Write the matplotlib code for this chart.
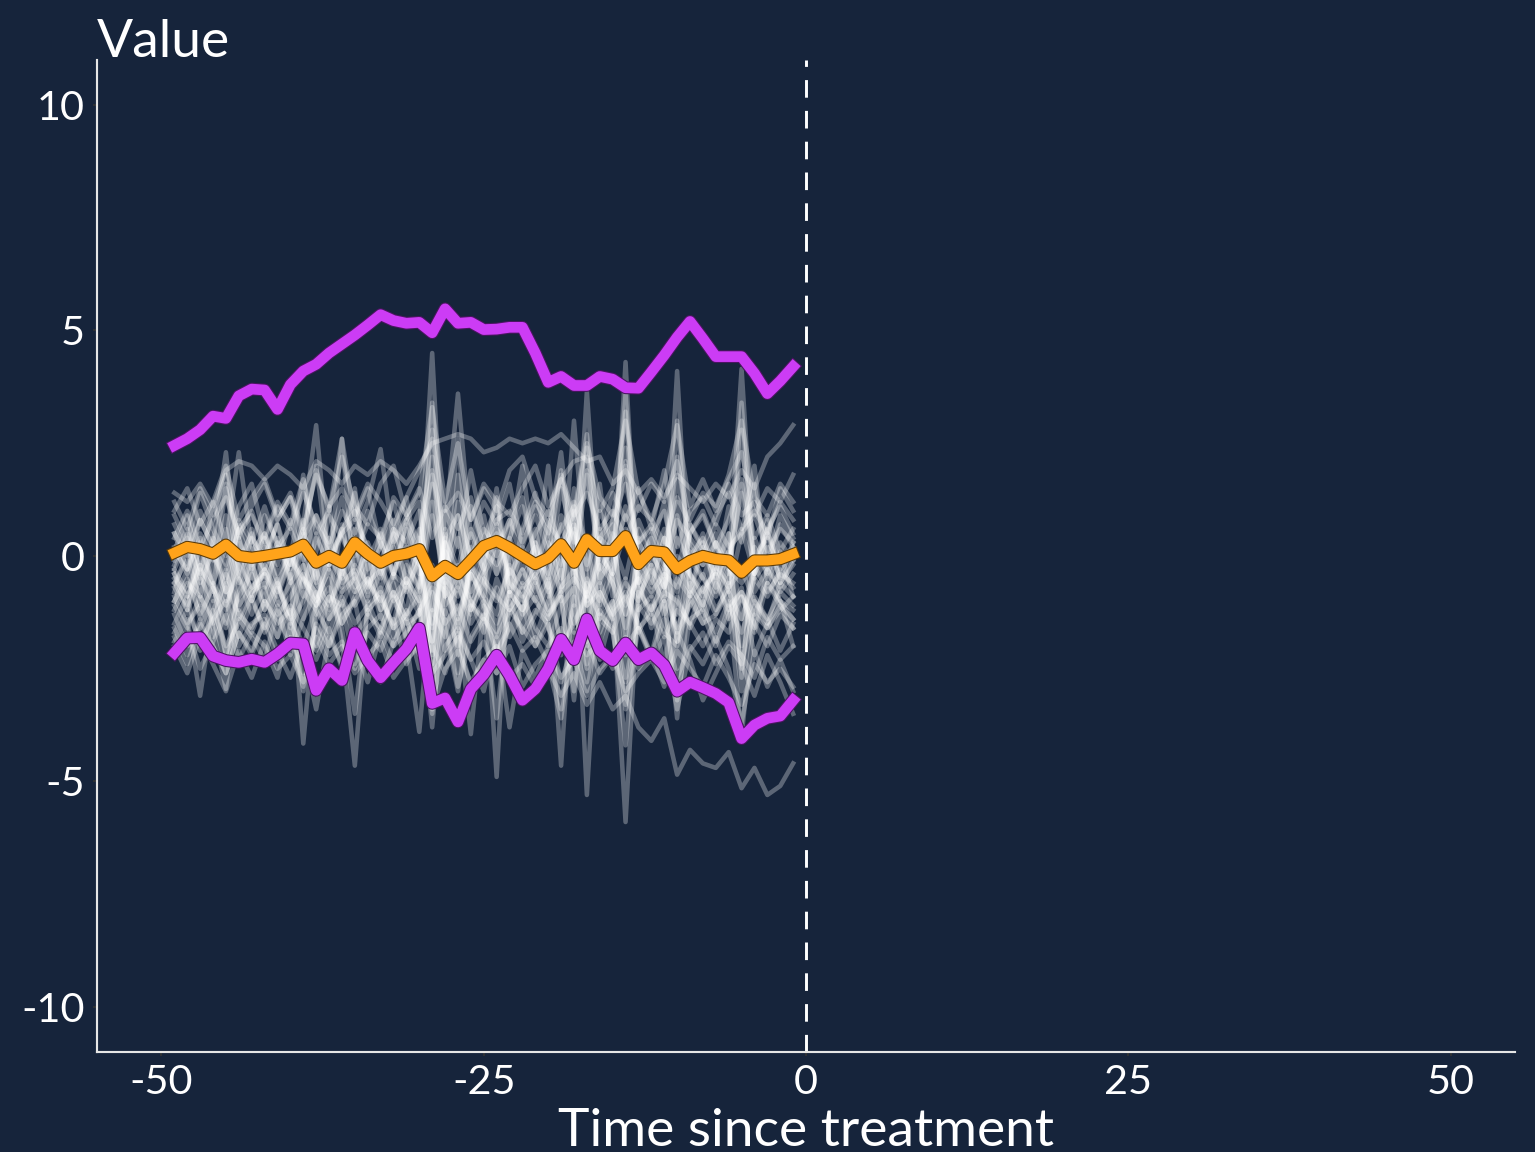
import matplotlib.pyplot as plt
import matplotlib.patheffects as pe
import numpy as np

plt.rcParams['font.family'] = ['Lato', 'DejaVu Sans']
plt.rcParams['axes.unicode_minus'] = False

# time points before treatment
t = list(range(-49, 0))

# individual units
u01 = [1.4, 1.2, 1.6, 1.1, 1.9, 2.1, 2.0, 1.7, 2.0, 1.8, 1.5, 2.1, 1.9, 1.6,
       2.0, 1.8, 2.1, 1.9, 1.6, 2.0, 2.5, 2.6, 2.7, 2.6, 2.3, 2.4, 2.6, 2.5,
       2.6, 2.5, 2.7, 2.4, 2.1, 2.2, 1.6, 1.9, 1.4, 1.7, 1.3, 1.8, 1.5, 1.2,
       1.6, 1.3, 1.9, 1.5, 2.2, 2.5, 2.9]
u02 = [0.5, -0.3, 0.8, 0.2, 1.5, 0.4, -0.5, 0.9, 0.3, -0.6, 0.7, 2.9, -0.2, 0.6,
       1.0, 0.1, -0.8, 0.5, 1.3, -0.4, 4.5, -0.9, 1.8, -0.2, 0.4, 1.1, -0.7, 0.6,
       1.4, 0.3, -0.5, 1.2, 0.2, -1.1, 0.8, 2.1, -0.6, 0.5, 1.0, -0.3, 0.7, 0.1,
       -0.4, 1.1, 0.3, 1.6, -0.2, 0.9, 0.4]
u03 = [-0.8, 0.2, -1.1, -0.3, 0.6, -1.2, -0.2, -1.0, 0.4, -0.5, -1.4, 0.1, 1.1, -0.7,
       0.3, -0.9, 0.6, -0.4, -1.3, 0.5, 2.2, -0.6, 0.9, -1.2, -0.1, 0.7, -0.8, 0.2,
       -0.5, 0.8, -1.0, 1.5, -0.3, 0.6, -0.9, 4.3, -1.2, 0.2, -0.7, 0.9, -0.4, -1.1,
       0.3, -0.8, 0.5, 2.0, -0.6, 0.1, -0.9]
u04 = [0.1, 0.9, -0.4, 1.2, 0.3, 2.3, 0.2, -0.3, 0.8, 1.3, 0.1, -0.6, 0.9, 0.4,
       -0.2, 1.0, 0.3, -0.5, 0.8, 1.2, -1.6, 0.5, -0.3, 1.1, 0.2, -0.4, 0.7, 1.3,
       0.0, -0.7, 0.9, 0.4, -0.2, 1.0, 0.3, -0.5, 0.8, 0.1, 1.2, -0.8, 0.5, 0.9,
       0.2, -0.3, 4.15, -0.4, 0.6, 1.1, 0.5]
u05 = [-0.4, -1.2, 0.3, -0.7, -1.5, 0.4, -0.9, 0.2, -0.6, -1.3, 0.5, -0.3, -1.0, 0.7,
       -0.8, 0.1, -1.2, -0.4, 0.6, -0.7, -2.1, 0.3, -1.4, -0.2, -0.9, 0.4, -0.5, -1.3,
       0.6, -0.8, 0.2, -1.1, 3.65, -0.6, 0.3, -1.3, 0.4, -0.5, -1.0, 4.1, -0.9, 0.2,
       -0.7, 0.5, -1.4, -0.3, 0.8, -0.6, -0.2]
u06 = [0.9, 0.3, 1.4, 0.6, 0.0, 1.1, 1.6, 0.4, 1.2, 0.7, 1.7, 0.5, 1.0, 2.6,
       0.8, 1.5, 0.2, 1.3, 0.9, 0.3, 1.8, 0.6, 3.6, 0.4, 1.2, 0.7, 1.6, 0.2,
       1.1, 0.5, 1.8, 0.9, 2.7, 0.3, 1.4, 0.8, 1.5, 0.6, 1.9, 0.2, 1.0, 1.3,
       0.7, 1.6, 0.9, 1.2, 0.4, 1.5, 1.0]
u07 = [-1.5, -0.9, -2.1, -1.2, -0.6, -1.8, -1.0, -1.6, -0.7, -1.3, -2.0, -1.1, -0.5, -1.9,
       -4.65, -1.0, -1.7, -0.8, -1.4, -2.2, -1.2, -1.8, -0.6, -1.5, -1.0, -2.3, -1.3, -0.9,
       -1.6, -2.0, -1.1, -0.7, -1.9, -1.2, -1.7, -0.9, -1.5, -2.2, -1.0, -1.6, -0.8, -1.3,
       -2.0, -1.1, -1.7, -0.9, -1.4, -2.1, -1.5]
u08 = [-1.0, -0.3, -1.4, -0.6, -2.2, -0.8, -0.1, -1.2, -0.5, -1.6, -0.2, -2.0, -0.9, -1.1,
       -0.4, -1.3, -0.7, -1.8, -0.5, -1.0, -3.8, -0.6, -1.5, -0.3, -1.1, -2.4, -0.8, -1.2,
       -0.5, -1.4, -0.9, -3.2, -0.6, -1.7, -1.0, -5.9, -0.7, -1.3, -0.4, -1.9, -0.9, -1.5,
       -0.6, -1.2, -0.8, -1.6, -0.3, -1.0, -1.4]
u09 = [-0.2, 0.5, -0.6, 0.1, -1.0, -0.4, 0.6, -0.7, 0.2, -0.3, 0.8, -0.9, 0.0, -0.5,
       0.4, -0.8, 0.3, -0.4, 0.7, -0.2, -1.5, 0.1, -0.7, 0.5, -0.3, -4.9, 0.2, -0.6,
       0.3, -0.9, -0.1, 0.6, -5.3, -0.4, 0.5, -1.8, 0.0, -0.7, 0.4, -0.2, -0.8, 0.3,
       -0.5, 0.1, -2.5, -0.3, 0.6, -0.6, 0.0]
u10 = [-1.8, -2.4, -1.5, -2.0, -2.6, -1.7, -2.2, -1.4, -2.1, -2.7, -1.9, -2.3, -1.6, -2.5,
       -2.0, -2.8, -1.7, -2.4, -2.1, -1.5, -2.6, -2.2, -1.8, -2.9, -2.3, -2.0, -2.7, -2.4,
       -2.9, -2.5, -3.1, -2.6, -3.3, -2.8, -3.4, -3.1, -3.8, -4.1, -3.6, -4.85, -4.3, -4.6,
       -4.7, -4.35, -5.15, -4.7, -5.3, -5.1, -4.6]
u11 = [-1.9, -1.4, -3.1, -1.2, -2.0, -1.5, -0.9, -1.7, -1.1, -2.2, -1.4, -0.8, -2.0, -1.3,
       -1.0, -2.4, -1.6, -0.9, -1.8, -1.2, -0.7, -2.1, -1.4, -3.95, -1.1, -1.7, -0.8, -1.9,
       -1.3, -0.6, -2.0, -1.5, -0.9, -2.3, -1.2, -0.8, -1.7, -1.1, -2.4, -0.9, -1.6, -1.0,
       -1.9, -1.3, -0.7, -2.2, -1.5, -1.0, -2.0]
u12 = [-0.6, -1.1, -0.2, -1.6, -2.95, -0.5, -1.3, -0.7, -1.8, -0.4, -4.16, -1.0, -0.3, -1.5,
       -0.9, -0.2, -1.4, -0.6, -1.9, -3.9, -0.8, -1.3, -0.4, -1.0, -1.7, -0.5, -1.2, -0.7,
       -1.8, -1.0, -0.3, -1.5, -0.8, -1.3, -0.4, -1.1, -0.5, -1.6, -0.9, -3.6, -0.6, -1.2,
       -0.4, -1.4, -0.9, -1.7, -0.6, -1.1, -1.6]
u13 = [-0.5, -0.9, -0.3, -0.7, -1.2, 0.0, -0.8, -0.4, -1.1, -0.6, -0.2, -0.9, -1.4, -0.3,
       -0.8, -0.5, -1.0, -1.5, -0.2, -0.7, 1.2, -0.9, -0.4, -1.2, -0.6, 1.3, -0.8, -0.3,
       -1.0, -0.5, -4.65, -0.2, -0.8, 1.6, -0.6, -1.3, -0.4, -0.9, -0.3, 1.2, -0.7, -1.1,
       -0.2, -0.8, -1.4, -0.5, -0.9, -0.3, -0.7]
u14 = [0.7, 0.1, 1.0, 0.4, -0.2, 0.8, 0.3, 1.1, 0.2, 0.6, -0.1, 0.9, 0.3, 1.3,
       0.0, 0.7, 0.4, 1.2, 0.1, 0.6, -2.4, 1.0, 0.2, 1.9, 0.5, 0.0, 0.8, 0.3,
       0.9, 0.1, 0.6, 1.1, -1.5, 0.4, 0.8, 1.6, 0.3, 0.7, 0.0, -1.3, 0.5, 1.0,
       0.2, 0.8, 1.7, 0.4, 0.9, 0.1, 0.6]
u15 = [-1.2, -0.6, -0.9, -1.5, -0.4, -1.1, -0.7, -0.3, -1.0, -1.4, -0.5, -0.8, -1.2, -0.2,
       -1.1, -0.6, -0.3, -1.0, -0.7, -1.3, -0.5, -0.8, -1.6, -0.4, -0.9, -1.3, -0.2, -1.0,
       -0.4, -1.2, -0.7, -0.3, -1.1, -0.8, -1.4, -0.6, -1.0, -0.2, -1.3, -0.5, -0.9, -0.4,
       -1.2, -0.7, -0.3, -1.0, -1.5, -0.6, -0.9]
u16 = [0.2, -0.4, 0.5, -0.1, 0.9, -0.6, 0.4, 0.0, 0.7, -0.5, 0.3, 2.0, -0.2, 0.5,
       1.4, -0.3, 0.2, 0.8, -0.6, 0.4, -3.0, 0.6, -2.2, 0.1, 0.9, -0.4, 0.3, 2.0,
       -0.2, 0.5, 2.3, -0.3, 1.8, 0.1, -0.5, -2.7, 0.6, 0.0, -0.4, 2.2, 0.3, -0.2,
       0.5, -0.1, -2.0, 0.4, -0.3, 0.7, 0.2]
u17 = [-1.3, -2.0, -1.6, -1.0, -2.2, -1.4, -1.8, -2.3, -1.2, -1.7, -2.6, -1.5, -2.0, -1.1,
       -2.4, -1.6, -1.3, -2.0, -1.7, -1.2, -3.5, -1.4, -2.9, -1.8, -1.3, -2.1, -1.6, -1.1,
       -2.0, -1.5, -2.8, -1.9, -3.0, -1.4, -1.7, -3.3, -1.6, -2.2, -1.4, -2.7, -2.0, -2.4,
       -1.8, -2.5, -3.7, -2.1, -2.9, -2.3, -3.0]
u18 = [1.2, 0.6, 1.5, 0.9, 1.8, 0.4, 1.1, 1.6, 0.8, 1.3, 0.5, 1.9, 1.0, 2.2,
       1.1, 0.7, 1.6, 2.0, 0.9, 1.4, 3.3, 1.2, 2.5, 0.8, 1.5, 1.0, 1.9, 2.2,
       1.3, 0.9, 1.7, 2.1, 2.2, 1.0, 1.5, 3.0, 1.4, 0.8, 1.6, 2.9, 1.1, 1.7,
       1.0, 1.8, 3.0, 1.3, 0.9, 1.6, 1.2]
u19 = [-0.3, 0.3, -0.8, 0.0, -0.5, 0.6, -0.2, 0.4, -0.6, 0.1, -0.9, 0.5, -0.3, 2.6,
       -0.7, 0.3, -0.4, 0.6, -0.1, -0.8, 0.9, -0.5, 0.4, -0.9, 0.0, 0.5, -0.4, 0.1,
       -0.6, 0.3, -0.2, 0.7, -0.9, 0.0, -0.4, 0.6, -0.3, 0.2, -0.7, 0.4, -0.2, 0.5,
       -0.8, 0.1, 0.6, -0.4, 0.2, -0.5, 0.3]
u20 = [-2.2, -1.6, -2.5, -1.9, -1.3, -2.3, -1.7, -2.0, -2.7, -1.5, -2.1, -3.4, -1.8, -2.4,
       -1.6, -2.2, -2.8, -1.9, -1.4, -2.5, -2.0, -2.6, -1.7, -2.3, -3.0, -1.8, -3.8, -2.1,
       -2.7, -2.0, -1.6, -2.4, -1.9, -2.6, -2.2, -1.8, -2.5, -2.1, -2.9, -1.7, -2.3, -3.2,
       -2.6, -2.0, -2.4, -3.1, -2.2, -2.8, -3.5]
u21 = [0.4, 1.0, 0.2, 0.8, 1.3, 0.5, 0.9, 0.3, 1.1, 0.6, 1.4, 0.7, 0.2, 1.0,
       0.5, 1.2, 2.37, 0.3, 0.9, 1.5, 0.4, 1.1, 0.6, 1.3, 0.2, 0.8, 1.0, 0.5,
       1.2, 0.7, 0.3, 0.9, 1.4, 0.6, 1.0, 0.4, 1.1, 0.8, 0.3, 1.3, 0.7, 0.2,
       0.9, 1.4, 0.6, 1.0, 0.5, 1.2, 0.8]
u22 = [-0.6, -0.1, -0.9, 0.3, 2.3, -0.4, -1.0, -0.2, -0.7, 0.1, -0.5, -1.1, 0.0, -0.6,
       -0.3, -1.0, -0.4, 0.2, -0.8, -0.1, 2.8, -0.7, -0.2, -1.1, -0.4, 0.1, -0.9, -0.3,
       -0.8, 0.0, 1.9, -0.6, 2.4, -0.5, -0.1, 3.2, -0.9, -0.3, -0.7, 0.0, -0.4, -0.9,
       -0.2, -0.6, 2.8, -0.8, -0.3, -0.7, -0.1]
u23 = [-0.9, -1.5, -1.1, -1.8, -0.7, -1.3, -1.6, -1.0, -1.4, -1.9, -0.8, -1.2, -1.7, -0.9,
       -1.5, -1.1, -0.8, -1.6, -1.3, -0.9, -2.6, -1.2, -2.0, -1.0, -1.4, -0.7, -1.8, -1.3,
       -0.9, -1.6, -2.2, -1.1, -2.5, -0.8, -1.4, -2.8, -1.2, -0.9, -1.7, -2.0, -1.0, -1.5,
       -1.3, -0.8, -2.4, -1.1, -1.6, -1.2, -0.9]
u24 = [0.0, 0.6, -0.3, 0.4, -0.8, 0.7, 0.1, 0.5, -0.2, 0.8, 0.0, -1.3, 0.4, -0.4,
       0.6, 0.1, -0.5, 0.3, 0.8, 0.0, -1.9, 0.4, -2.6, 0.2, -0.3, 0.6, 0.1, -1.7,
       0.3, -0.4, -2.0, 0.5, -2.4, 0.2, 0.7, -2.2, 0.3, -0.2, 0.6, -2.5, 0.0, 0.4,
       -0.3, 0.5, -2.7, 0.2, -0.4, 0.3, -0.1]
u25 = [-1.0, -0.5, -1.3, -0.7, -1.6, -0.9, -0.4, -1.2, -0.6, -1.5, -1.0, -0.3, -1.4, -0.8,
       -0.5, -1.2, -0.9, -1.6, -0.6, -1.1, -2.9, -0.7, -1.3, -0.4, -1.0, -1.5, -0.8, -1.2,
       -0.6, -1.3, -0.9, -3.0, -0.5, -1.4, -1.0, -3.4, -0.8, -1.2, -0.5, -1.7, -1.1, -0.7,
       -1.3, -0.6, -3.0, -1.0, -1.4, -0.8, -1.1]
u26 = [-0.4, -0.9, -0.2, -0.8, 1.6, -0.5, -1.0, -0.3, -0.8, -0.1, 1.8, -0.6, -1.1, -0.4,
       1.5, -0.7, -0.2, -0.9, -0.5, -1.0, 3.4, -0.4, 2.6, -0.8, -0.3, 1.5, -0.6, -0.9,
       -0.2, 2.0, -0.7, 3.0, -0.5, -1.0, -0.3, 3.6, -0.6, -0.2, -0.9, 3.0, -0.4, -0.8,
       -0.3, -0.7, 3.4, -0.5, -0.1, -0.8, -0.4]
u27 = [-1.6, -2.2, -1.4, -2.0, -2.6, -1.7, -2.1, -1.5, -2.3, -1.8, -2.9, -1.6, -2.2, -1.9,
       -2.5, -1.7, -2.1, -1.4, -2.4, -1.8, -3.2, -2.0, -1.6, -2.3, -1.9, -2.6, -1.5, -2.1,
       -1.8, -2.4, -3.6, -1.7, -2.2, -1.9, -2.5, -2.0, -1.6, -2.3, -1.8, -3.4, -2.1, -1.7,
       -2.4, -1.9, -2.2, -2.7, -1.8, -2.3, -2.0]
u28 = [0.5, 0.0, 0.8, 0.2, -0.3, 0.6, 1.0, 0.1, 0.7, -0.2, 0.4, 0.9, 0.0, 0.5,
       0.8, 0.2, -0.1, 0.6, 0.3, 1.0, -1.2, 0.4, 0.9, 0.0, 0.6, 0.2, 0.8, -0.1,
       0.5, 1.0, 0.2, 0.7, -1.0, 0.4, 0.1, 0.9, 0.3, 0.6, -0.2, 0.8, 0.4, 0.0,
       0.7, 0.2, 0.5, 0.9, 0.1, 0.6, 0.3]
u29 = [-1.1, -1.6, -0.9, -1.4, -2.4, -1.2, -1.7, -1.0, -1.5, -1.2, -3.0, -1.4, -0.9, -1.6,
       -3.5, -1.2, -1.8, -1.0, -1.5, -1.3, -0.2, -1.6, -3.0, -1.1, -1.4, -3.6, -1.0, -1.7,
       -1.2, -1.5, -3.4, -0.9, -2.8, -1.3, -1.6, -4.2, -1.1, -1.5, -1.0, -3.2, -1.4, -1.2,
       -1.7, -1.0, -4.0, -1.3, -1.6, -1.1, -1.4]
u30 = [1.0, 1.5, 0.7, 1.2, 2.0, 0.8, 1.3, 1.7, 0.9, 1.4, 0.6, 1.8, 1.1, 1.5,
       0.9, 1.6, 1.2, 0.7, 1.3, 1.9, 2.6, 1.0, 1.4, 0.8, 1.6, 1.2, 0.9, 1.5,
       2.0, 1.1, 1.7, 0.8, 2.5, 1.3, 0.9, 2.4, 1.0, 1.6, 1.2, 2.1, 0.8, 1.4,
       1.1, 1.7, 2.3, 0.9, 1.5, 1.2, 1.8]
u31 = [-0.1, 0.4, -0.5, 0.2, -0.8, 0.3, -0.3, 0.5, -0.4, 0.1, -0.7, 0.4, -0.2, 0.6,
       -0.5, 0.2, -0.3, 0.5, -0.6, 0.1, -1.9, 0.3, -0.4, 0.6, -0.1, -2.1, 0.4, -0.3,
       0.2, -0.5, 0.7, -0.2, -2.0, 0.3, -0.4, 1.1, 0.0, -0.6, 0.4, -1.9, 0.1, -0.5,
       0.3, -0.2, 1.4, -0.4, 0.5, -0.1, 0.2]
u32 = [-0.7, -1.2, -0.5, -1.0, -0.3, -1.4, -0.8, -0.6, -1.3, -0.9, -0.4, -1.1, -0.7, -1.5,
       -1.0, -0.5, -1.2, -0.8, -1.4, -0.6, 1.6, -1.1, -0.7, -1.3, -0.5, -0.9, -1.2, -0.6,
       -1.0, -1.4, -0.8, 1.0, -1.1, -0.6, -1.3, -0.9, -0.5, -1.2, -0.8, -1.0, -1.5, -0.7,
       -0.4, -1.1, -0.8, -1.3, -0.6, -1.0, -1.2]
u33 = [-1.7, -1.2, -1.9, -1.4, -1.0, -2.0, -1.5, -1.3, -1.8, -1.1, -1.6, -2.1, -1.4, -1.0,
       -1.8, -1.3, -1.6, -2.0, -1.2, -1.7, -0.6, -1.5, -1.1, -1.9, -1.4, -1.8, -1.2, -1.6,
       -2.0, -1.3, -0.8, -1.7, -1.4, -1.9, -1.1, -0.5, -1.6, -1.3, -1.8, -1.2, -1.5, -2.0,
       -1.4, -1.7, -0.9, -1.5, -2.0, -1.3, -1.6]
u34 = [0.1, -0.3, 0.4, -0.6, 0.2, -0.1, 0.5, -0.4, 0.3, -0.2, 0.6, -0.5, 0.1, -0.3,
       0.4, -0.1, 0.5, -0.4, 0.2, -0.2, 1.9, -0.3, 1.2, -0.5, 0.1, -0.2, 0.4, 1.1,
       0.0, -0.4, 1.5, 0.3, 1.9, -0.3, 0.2, 2.0, -0.1, 0.4, -0.3, 1.7, 0.2, -0.2,
       0.3, -0.4, 1.6, 0.0, 0.4, -0.3, 0.1]
u35 = [-0.3, -0.8, 0.0, -0.6, -1.1, -0.2, -0.7, -0.4, -0.9, -0.1, -0.5, -1.0, -0.3, -0.8,
       -0.2, -0.6, -1.0, -0.4, -0.7, -0.1, -2.2, -0.5, -0.9, -0.2, -0.6, -1.0, -0.3, -0.7,
       -0.4, -0.1, -0.8, -0.5, -0.9, -0.2, -0.6, -1.6, -0.3, -0.8, -0.4, -0.7, -0.1, -0.5,
       -0.9, -0.3, -0.6, -0.2, -0.8, -0.4, -0.6]
u36 = [-2.0, -2.6, -1.8, -2.4, -3.0, -2.1, -2.7, -1.9, -2.5, -2.2, -2.8, -1.8, -2.4, -2.0,
       -2.6, -2.2, -1.9, -2.7, -2.3, -2.0, -3.4, -2.5, -2.1, -2.8, -2.3, -2.6, -2.0, -2.9,
       -2.4, -2.1, -2.7, -2.3, -3.1, -2.5, -2.2, -3.0, -2.6, -2.3, -2.8, -2.1, -2.5, -2.9,
       -2.2, -2.7, -3.3, -2.4, -2.8, -2.5, -2.9]

units = [u01, u02, u03, u04, u05, u06, u07, u08, u09, u10, u11, u12,
         u13, u14, u15, u16, u17, u18, u19, u20, u21, u22, u23, u24,
         u25, u26, u27, u28, u29, u30, u31, u32, u33, u34, u35, u36]

# summary lines
mean_line = [0.07, 0.2, 0.15, 0.05, 0.25, 0.0, -0.04, 0.0, 0.05, 0.1, 0.25, -0.15, 0.0, -0.15,
             0.3, 0.05, -0.15, 0.0, 0.05, 0.15, -0.45, -0.22, -0.4, -0.1, 0.22, 0.33, 0.18, 0.0,
             -0.18, -0.04, 0.26, -0.15, 0.37, 0.11, 0.11, 0.44, -0.18, 0.11, 0.08, -0.29, -0.11, 0.0,
             -0.07, -0.1, -0.37, -0.1, -0.1, -0.07, 0.04]
upper_line = [2.45, 2.6, 2.8, 3.1, 3.05, 3.55, 3.7, 3.68, 3.25, 3.8, 4.1, 4.25, 4.5, 4.7,
              4.9, 5.12, 5.35, 5.22, 5.16, 5.18, 4.95, 5.48, 5.16, 5.18, 5.02, 5.03, 5.07, 5.07,
              4.5, 3.85, 3.98, 3.78, 3.78, 3.98, 3.92, 3.73, 3.72, 4.08, 4.45, 4.85, 5.2, 4.82,
              4.42, 4.42, 4.42, 4.05, 3.6, 3.88, 4.2]
lower_line = [-2.15, -1.82, -1.81, -2.22, -2.32, -2.36, -2.29, -2.36, -2.17, -1.93, -1.95, -2.98, -2.5, -2.76,
              -1.7, -2.32, -2.7, -2.37, -2.06, -1.6, -3.27, -3.15, -3.68, -2.95, -2.63, -2.2, -2.65, -3.2,
              -2.95, -2.5, -1.85, -2.3, -1.4, -2.1, -2.32, -1.93, -2.3, -2.15, -2.42, -3.0, -2.8, -2.92,
              -3.05, -3.25, -4.05, -3.75, -3.6, -3.55, -3.2]

bg = '#16243b'
fig = plt.figure(figsize=(1535 / 192, 1152 / 192), dpi=192, facecolor=bg)
ax = fig.add_axes([0.0632, 0.0868, 0.9238, 0.8612])
ax.set_facecolor(bg)

for u in units:
    ax.plot(t, u, color='white', alpha=0.3, lw=1.7)

ax.axvline(0, color='white', lw=1.1, dashes=(6, 4.5))

ax.plot(t, upper_line, color='#cc3cf5', lw=4.0,
        path_effects=[pe.Stroke(linewidth=4.8, foreground='#4a1560'), pe.Normal()])
ax.plot(t, lower_line, color='#cc3cf5', lw=4.0,
        path_effects=[pe.Stroke(linewidth=4.8, foreground='#4a1560'), pe.Normal()])
ax.plot(t, mean_line, color='#ffa31a', lw=3.8,
        path_effects=[pe.Stroke(linewidth=4.6, foreground='#5a3a08'), pe.Normal()])

ax.set_xlim(-55, 55)
ax.set_ylim(-11, 11)
ax.set_xticks([-50, -25, 0, 25, 50])
ax.set_yticks([-10, -5, 0, 5, 10])

for s in ['top', 'right']:
    ax.spines[s].set_visible(False)
for s in ['left', 'bottom']:
    ax.spines[s].set_color('#e6e6e6')
    ax.spines[s].set_linewidth(0.8)

ax.tick_params(colors='#333333', length=1.5, width=0.6, labelcolor='white',
               labelsize=15.5)
ax.tick_params(axis='x', pad=3)
ax.tick_params(axis='y', pad=3)

ax.set_xlabel('Time since treatment', color='white', fontsize=20, labelpad=2.5)
ax.text(0.0, 0.994, 'Value', transform=ax.transAxes, color='white',
        fontsize=20, ha='left', va='bottom')

fig.savefig('out.png', dpi=192, facecolor=bg)
